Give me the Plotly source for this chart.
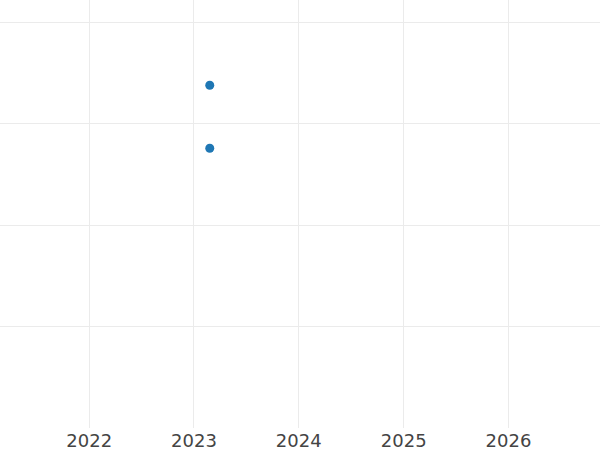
import plotly.graph_objects as go

# observation dates and values
dates = ['2023-02-25', '2023-02-25']
values = [3.38, 2.76]

x_range = ['2021-02-24', '2026-11-16']
y_range = [0.005, 4.22]

fig = go.Figure()
fig.add_trace(go.Scatter(
    x=dates, y=values,
    mode='markers', name='obs',
    marker=dict(color='#1f77b4', size=9)
))
fig.update_layout(
    width=600, height=450,
    margin=dict(l=0, r=0, t=0, b=22),
    paper_bgcolor='white', plot_bgcolor='white',
    showlegend=False,
    font=dict(family='DejaVu Sans', size=18, color='#444'),
)
fig.update_xaxes(type='date', range=x_range, dtick='M12', tickformat='%Y',
                 showgrid=True, gridcolor='#ebebeb', gridwidth=1,
                 zeroline=False, ticks='', showline=False)
fig.update_yaxes(range=y_range, dtick=1, showticklabels=False,
                 showgrid=True, gridcolor='#ebebeb', gridwidth=1,
                 zeroline=False, ticks='', showline=False)

# no page margin so the figure sits flush in the window
fig.write_html("out.html", config={'displayModeBar': False},
               post_script="document.body.style.margin='0';")
